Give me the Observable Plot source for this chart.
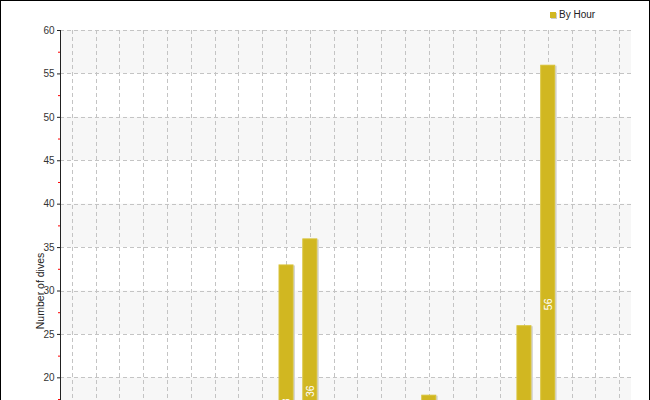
<!DOCTYPE html>
<html>
<head>
<meta charset="utf-8">
<script src="https://cdn.jsdelivr.net/npm/d3@7"></script>
<script src="https://cdn.jsdelivr.net/npm/@observablehq/plot@0.6"></script>
<style>
  html, body { margin: 0; padding: 0; background: #fff; }
  #wrap { position: relative; width: 648px; border: 1px solid #000; background: #fff; font-family: "Liberation Sans", Arial, sans-serif; }
  #legend { position: absolute; top: 8px; left: 549px; font-size: 10px; color: #222; display: flex; align-items: center; gap: 3px; }
  #legend .sw { width: 6px; height: 6px; background: #D1B721; box-shadow: 1px 1px 0 #ccc; }
  svg { display: block; }
</style>
</head>
<body>
<div id="wrap">
  <div id="legend"><span class="sw"></span><span>By Hour</span></div>
  <div id="chart"></div>
</div>
<script>
// Data (only bars tall enough to be visible in the reference crop)
const hours = d3.range(0, 24);
const barHours = [9, 10, 15, 19, 20];
const barCounts = [33, 36, 18, 26, 56];
const majorTicks = d3.range(0, 61, 5);
const minorTicks = d3.range(2.5, 60, 5);
const stripeLo = [55, 45, 35, 25, 15, 5];
const stripeHi = [60, 50, 40, 30, 20, 10];

const data = barHours.map((h, i) => ({hour: h, count: barCounts[i]}));
const stripes = stripeLo.map((lo, i) => ({lo, hi: stripeHi[i]}));

const color = "#D1B721";

const chart = Plot.plot({
  width: 648,
  height: 601,
  marginTop: 29,
  marginLeft: 59,
  marginRight: 18,
  marginBottom: 51,
  style: {fontFamily: "Liberation Sans, Arial, sans-serif", fontSize: "10px", color: "#333", background: "#fff"},
  x: {type: "band", domain: hours, paddingInner: 0.37, paddingOuter: 0.185, align: 0.5, round: false, axis: null},
  y: {domain: [0, 60], axis: null},
  marks: [
    Plot.rect(stripes, {y1: "lo", y2: "hi", fill: "#f7f7f7"}),
    Plot.gridY(majorTicks, {stroke: "#c4c4c4", strokeOpacity: 1, strokeDasharray: "4,3", shapeRendering: "crispEdges"}),
    Plot.ruleX(hours, {x: d => d, stroke: "#c4c4c4", strokeOpacity: 1, strokeDasharray: "4,3", shapeRendering: "crispEdges"}),
    Plot.barY(data, {x: "hour", y: "count", fill: "#d6d6d6", dx: 1.5, dy: 1}),
    Plot.barY(data, {x: "hour", y: "count", fill: color, stroke: "#D8C236", strokeWidth: 1, inset: 0.5}),
    Plot.text(data, {x: "hour", y: d => d.count / 2, text: d => String(d.count), rotate: -90, fill: "white", fontSize: 10.5, dy: -4}),
    Plot.frame({anchor: "left", stroke: "#222", shapeRendering: "crispEdges"}),
    Plot.axisY({ticks: minorTicks, tickSize: 2, stroke: "red", tickFormat: () => ""}),
    Plot.axisY({ticks: majorTicks, tickSize: 3, tickPadding: 3, fill: "#333", stroke: "#222", fontSize: 10, label: null}),
    Plot.text(["Number of dives"], {frameAnchor: "left", textAnchor: "middle", dx: -20, rotate: -90, fill: "#222", fontSize: 10.5})
  ]
});
document.getElementById("chart").appendChild(chart);
</script>
</body>
</html>
